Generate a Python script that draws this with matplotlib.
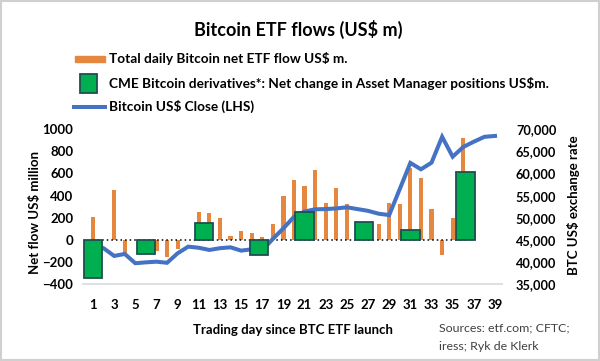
"""
Bitcoin ETF flows vs CME asset manager positions and BTC price.
"""
import matplotlib
matplotlib.use("Agg")
import matplotlib.pyplot as plt
import numpy as np
from matplotlib.patches import Rectangle
from matplotlib.lines import Line2D

plt.rcParams["font.family"] = ["Lato", "DejaVu Sans"]

days = np.arange(1, 40)
etf_flow = [205, 0, 450, -120, 0, -100, -100, -160, -80, 0,
            250, 240, 200, 35, 80, 60, 25, 140, 395, 540,
            485, 630, 330, 470, 320, 120, 90, 140, 330, 320,
            650, 560, 280, -140, 200, 920, 250, np.nan, np.nan]
btc_close = [44000, 43100, 41350, 41800, 39700, 39900, 40050, 39800, 41950, 43450,
             43200, 42700, 43100, 43300, 42550, 42850, 42600, 45200, 47600, 50200,
             51400, 51900, 51950, 52100, 52350, 51950, 51550, 50900, 50600, 56500,
             62400, 60950, 62450, 68300, 63800, 66000, 67200, 68300, 68500]
cme_day = [1, 6, 11.5, 16.7, 21, 26.6, 31, 36.2]
cme_change = [-350, -130, 150, -140, 250, 165, 85, 615]
flow_ticks = list(range(-400, 1001, 200))
btc_ticks = list(range(35000, 70001, 5000))
day_ticks = list(range(1, 40, 2))

ORANGE = "#E5873F"
GREEN = "#00B050"
EDGE = "#1F4F4F"
BLUE = "#4472C4"

W, H = 600, 361
fig = plt.figure(figsize=(W / 100, H / 100), dpi=100)
fig.patch.set_facecolor("white")
fig.add_artist(Rectangle((0.002, 0.003), 0.996, 0.994, transform=fig.transFigure,
                         fill=False, edgecolor="#D0D0D0", linewidth=1.5))

def px(x, y):
    return x / W, 1 - y / H

left, right, top, bottom = 83, 502, 129.3, 284
ax = fig.add_axes([left / W, 1 - bottom / H, (right - left) / W, (bottom - top) / H])
ax_btc = ax.twinx()
ax_cme = ax.twinx()

ax.bar(days, etf_flow, width=0.4, color=ORANGE, zorder=2)
ax.plot([cme_day[0], cme_day[-1]], [0, 0], color="black", linestyle=(0, (1, 2)),
        linewidth=1.1, zorder=3)
ax_btc.plot(days, btc_close, color=BLUE, linewidth=2.9, solid_joinstyle="miter")
ax_cme.bar(cme_day, cme_change, width=1.75, color=GREEN, edgecolor=EDGE, linewidth=1.3)

ax.set_xlim(1 - 10 / 10.58, 39 + 7 / 10.58)
ax.set_ylim(-400, 1000)
ax_cme.set_ylim(-400, 1000)
ax_btc.set_ylim(35000, 70000)

ax.set_xticks(day_ticks)
ax.set_yticks(flow_ticks)
ax_btc.set_yticks(btc_ticks)
ax_btc.set_yticklabels([f"{v:,}" for v in btc_ticks])
ax_cme.set_yticks([])

for a in (ax, ax_btc, ax_cme):
    for s in a.spines.values():
        s.set_visible(False)
ax.spines["bottom"].set_visible(True)
ax.spines["bottom"].set_color("#D9D9D9")
ax.spines["bottom"].set_linewidth(1.2)

ax.tick_params(axis="x", length=0, pad=11, labelsize=9.5)
ax.tick_params(axis="y", length=0, pad=7, labelsize=9.5)
ax_btc.tick_params(axis="y", length=0, pad=10, labelsize=9.2)
for lab in ax.get_xticklabels() + ax.get_yticklabels() + ax_btc.get_yticklabels():
    lab.set_fontweight("bold")

fig.text(*px(35, 213), "Net flow US$ million", rotation=90, ha="center", va="center",
         fontsize=9.5, fontweight="bold")
fig.text(*px(574, 205), "BTC US$ exchange rate", rotation=90, ha="center", va="center",
         fontsize=9.5, fontweight="bold")
fig.text(*px(293, 330), "Trading day since BTC ETF launch", ha="center", va="center",
         fontsize=9.5, fontweight="bold")
fig.text(*px(439, 328), "Sources: etf.com; CFTC;", ha="left", va="center",
         fontsize=8.9, color="#404040")
fig.text(*px(439, 347), "iress; Ryk de Klerk", ha="left", va="center",
         fontsize=8.9, color="#404040")

fig.text(*px(298, 29), "Bitcoin ETF flows (US$ m)", ha="center", va="center",
         fontsize=13, fontweight="bold")

# legend, drawn by hand so the keys keep their shapes
fig.add_artist(Rectangle(px(75, 61.5), 30 / W, 6 / H, transform=fig.transFigure,
                         color=ORANGE))
fig.add_artist(Rectangle(px(80, 93), 17 / W, 19 / H, transform=fig.transFigure,
                         facecolor=GREEN, edgecolor=EDGE, linewidth=1.3))
fig.add_artist(Line2D([74 / W, 105 / W], [1 - 107 / H] * 2, transform=fig.transFigure,
                      color=BLUE, linewidth=2.9))
legend_labels = ["Total daily Bitcoin net ETF flow US$ m.",
                 "CME Bitcoin derivatives*: Net change in Asset Manager positions US$m.",
                 "Bitcoin US$ Close (LHS)"]
for y, label in zip([58.5, 83, 106.5], legend_labels):
    fig.text(*px(109, y), label, ha="left", va="center", fontsize=9.8, fontweight="bold")

fig.savefig("out.png", dpi=100)
